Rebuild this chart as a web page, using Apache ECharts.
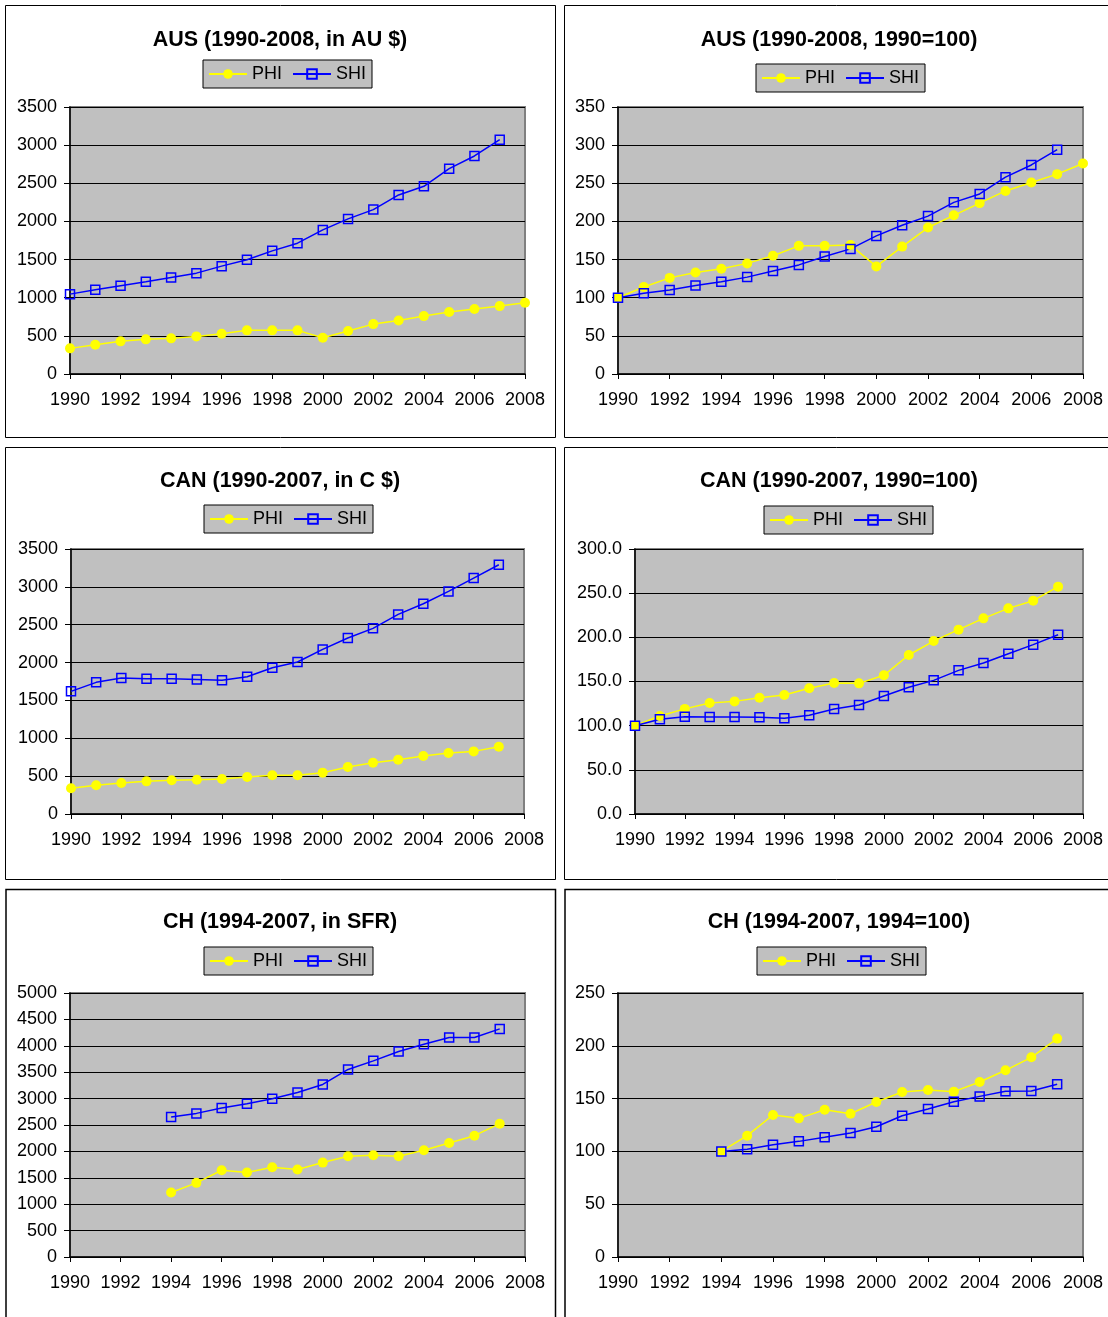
<!DOCTYPE html>
<html>
<head>
<meta charset="utf-8">
<script src="https://cdn.jsdelivr.net/npm/echarts@6/dist/echarts.min.js"></script>
<style>
html,body{margin:0;padding:0;background:#fff;}
#chart{width:1108px;height:1317px;}
</style>
</head>
<body>
<div id="chart"></div>
<script>
// ---------- data ----------
const YEARS_1990_2008 = [1990,1991,1992,1993,1994,1995,1996,1997,1998,1999,2000,2001,2002,2003,2004,2005,2006,2007,2008];
const YEARS_1990_2007 = [1990,1991,1992,1993,1994,1995,1996,1997,1998,1999,2000,2001,2002,2003,2004,2005,2006,2007];
const YEARS_1994_2007 = [1994,1995,1996,1997,1998,1999,2000,2001,2002,2003,2004,2005,2006,2007];

const AUS_AUD_PHI = [336,384,428,454,467,493,528,572,572,572,476,563,654,702,759,812,851,890,934];
const AUS_AUD_SHI = [1047,1104,1156,1208,1265,1322,1414,1497,1614,1715,1889,2033,2155,2347,2461,2692,2858,3072];
const AUS_IDX_PHI = [100,114,126,133,138,145,155,168,168,169,141,167,192,208,224,240,251,262,276];
const AUS_IDX_SHI = [100,106,110,116,121,127,135,143,154,164,181,195,207,225,236,258,274,294];

const CAN_CAD_PHI = [339,379,409,431,445,453,462,489,511,511,546,621,678,717,766,805,827,889];
const CAN_CAD_SHI = [1620,1739,1796,1787,1787,1778,1765,1813,1932,2007,2174,2324,2452,2636,2777,2940,3116,3292];
const CAN_IDX_PHI = [100,111,119,125.7,127.5,131.7,134.7,142.3,148.3,147.9,157,180,195.8,208.7,221.5,232.8,241.5,257.4];
const CAN_IDX_SHI = [100,107.2,110.2,109.8,109.8,109.4,108.3,111.7,118.9,123.4,133.6,143.4,151.3,162.6,170.9,181.5,191.7,203];

const CH_SFR_PHI = [1222,1404,1643,1599,1700,1656,1788,1908,1927,1908,2021,2160,2298,2525];
const CH_SFR_SHI = [2651,2720,2821,2903,2997,3117,3268,3552,3715,3892,4030,4156,4156,4320];
const CH_IDX_PHI = [100,114.9,134.5,131.3,139.5,135.7,146.8,156.3,158.1,156.6,165.7,176.8,189.1,206.8];
const CH_IDX_SHI = [100,102,106.4,109.5,113.3,117.4,123.4,133.8,140.2,147.1,152.1,156.9,157.2,163.5];

const TITLES = [
  'AUS (1990-2008, in AU $)', 'AUS (1990-2008, 1990=100)',
  'CAN (1990-2007, in C $)', 'CAN (1990-2007, 1990=100)',
  'CH (1994-2007, in SFR)', 'CH (1994-2007, 1994=100)'
];
const SERIES_NAMES = ['PHI', 'SHI'];
const X_MIN = 1990, X_MAX = 2008, X_STEP = 2;
const Y_MAX = [3500, 350, 3500, 300, 5000, 250];
const Y_STEP = [500, 50, 500, 50, 500, 50];

const PANELS = [
  {phiX: YEARS_1990_2008, phi: AUS_AUD_PHI, shiX: YEARS_1990_2007, shi: AUS_AUD_SHI},
  {phiX: YEARS_1990_2008, phi: AUS_IDX_PHI, shiX: YEARS_1990_2007, shi: AUS_IDX_SHI},
  {phiX: YEARS_1990_2007, phi: CAN_CAD_PHI, shiX: YEARS_1990_2007, shi: CAN_CAD_SHI},
  {phiX: YEARS_1990_2007, phi: CAN_IDX_PHI, shiX: YEARS_1990_2007, shi: CAN_IDX_SHI},
  {phiX: YEARS_1994_2007, phi: CH_SFR_PHI, shiX: YEARS_1994_2007, shi: CH_SFR_SHI},
  {phiX: YEARS_1994_2007, phi: CH_IDX_PHI, shiX: YEARS_1994_2007, shi: CH_IDX_SHI}
];

// ---------- layout ----------
const FONT = "'Liberation Sans', Arial, sans-serif";
const GRIDS = [
  {left: 70, top: 107, width: 455, height: 267},
  {left: 618, top: 107, width: 465, height: 267},
  {left: 71, top: 549, width: 453, height: 265},
  {left: 635, top: 549, width: 448, height: 265},
  {left: 70, top: 993, width: 455, height: 264},
  {left: 618, top: 993, width: 465, height: 264}
];
const TITLE_POS = [[280, 40], [839, 40], [280, 481], [839, 481], [280, 922], [839, 922]];
const LEGEND_POS = [[203, 60], [756, 64], [204, 505], [764, 506], [204, 947], [757, 947]];
const BOXES = [
  {x: 5.5, y: 5.5, w: 550, h: 432, lw: 1},
  {x: 564.5, y: 5.5, w: 600, h: 432, lw: 1},
  {x: 5.5, y: 447.5, w: 550, h: 432, lw: 1},
  {x: 564.5, y: 447.5, w: 600, h: 432, lw: 1},
  {x: 6, y: 889.5, w: 549.5, h: 500, lw: 1.5},
  {x: 565, y: 889.5, w: 600, h: 500, lw: 1.5}
];

function zip(xs, ys) { return ys.map((v, i) => [xs[i], v]); }

const grid = [], xAxis = [], yAxis = [], series = [], legend = [], graphic = [];

PANELS.forEach((p, i) => {
  grid.push(Object.assign({
    show: true, backgroundColor: '#C0C0C0', borderColor: '#808080', borderWidth: 2
  }, GRIDS[i]));
  xAxis.push({
    type: 'value', gridIndex: i, min: X_MIN, max: X_MAX, interval: X_STEP,
    axisLine: {show: true, lineStyle: {color: '#000', width: 1.5}},
    axisTick: {show: true, length: 5, lineStyle: {color: '#000', width: 1}},
    splitLine: {show: false},
    axisLabel: {color: '#000', fontSize: 18, fontFamily: FONT, margin: 17, formatter: v => String(v)}
  });
  yAxis.push({
    type: 'value', gridIndex: i, min: 0, max: Y_MAX[i], interval: Y_STEP[i],
    axisLine: {show: true, lineStyle: {color: '#000', width: 1.5}},
    axisTick: {show: true, length: 6, lineStyle: {color: '#000', width: 1}},
    splitLine: {show: true, lineStyle: {color: '#000', width: 1}},
    axisLabel: {color: '#000', fontSize: 18, fontFamily: FONT, margin: 13,
      formatter: i === 3 ? (v => v.toFixed(1)) : (v => String(v))}
  });
  series.push({
    name: SERIES_NAMES[0], type: 'line', xAxisIndex: i, yAxisIndex: i,
    data: zip(p.phiX, p.phi),
    symbol: 'circle', symbolSize: 10, showAllSymbol: true,
    lineStyle: {color: '#FFFF00', width: 1.5},
    itemStyle: {color: '#FFFF00', borderColor: '#FFFF00', borderWidth: 0},
    emphasis: {disabled: true}
  });
  series.push({
    name: SERIES_NAMES[1], type: 'line', xAxisIndex: i, yAxisIndex: i,
    data: zip(p.shiX, p.shi),
    symbol: 'rect', symbolSize: 9, showAllSymbol: true,
    lineStyle: {color: '#0000FF', width: 1.5},
    itemStyle: {color: 'rgba(0,0,0,0)', borderColor: '#0000FF', borderWidth: 1.5},
    emphasis: {disabled: true}
  });
  legend.push({
    data: SERIES_NAMES, left: LEGEND_POS[i][0], top: LEGEND_POS[i][1],
    orient: 'horizontal', backgroundColor: '#C0C0C0', borderColor: '#000', borderWidth: 1,
    padding: [5, 6, 5, 5], itemWidth: 38, itemHeight: 12, itemGap: 10,
    selectedMode: false,
    textStyle: {color: '#000', fontSize: 18, fontFamily: FONT}
  });
  graphic.push({
    type: 'text', x: TITLE_POS[i][0], y: TITLE_POS[i][1] + 0.5, silent: true,
    style: {text: TITLES[i], fill: '#000', font: 'bold 21.5px ' + FONT,
      textAlign: 'center', textVerticalAlign: 'middle'}
  });
  const b = BOXES[i];
  graphic.push({
    type: 'rect', silent: true, z: -1,
    shape: {x: b.x, y: b.y, width: b.w, height: b.h},
    style: {fill: 'none', stroke: '#000', lineWidth: b.lw}
  });
});

const chart = echarts.init(document.getElementById('chart'), null, {renderer: 'canvas'});
chart.setOption({
  animation: false,
  backgroundColor: '#fff',
  textStyle: {fontFamily: FONT},
  grid, xAxis, yAxis, series, legend, graphic
});
</script>
</body>
</html>
